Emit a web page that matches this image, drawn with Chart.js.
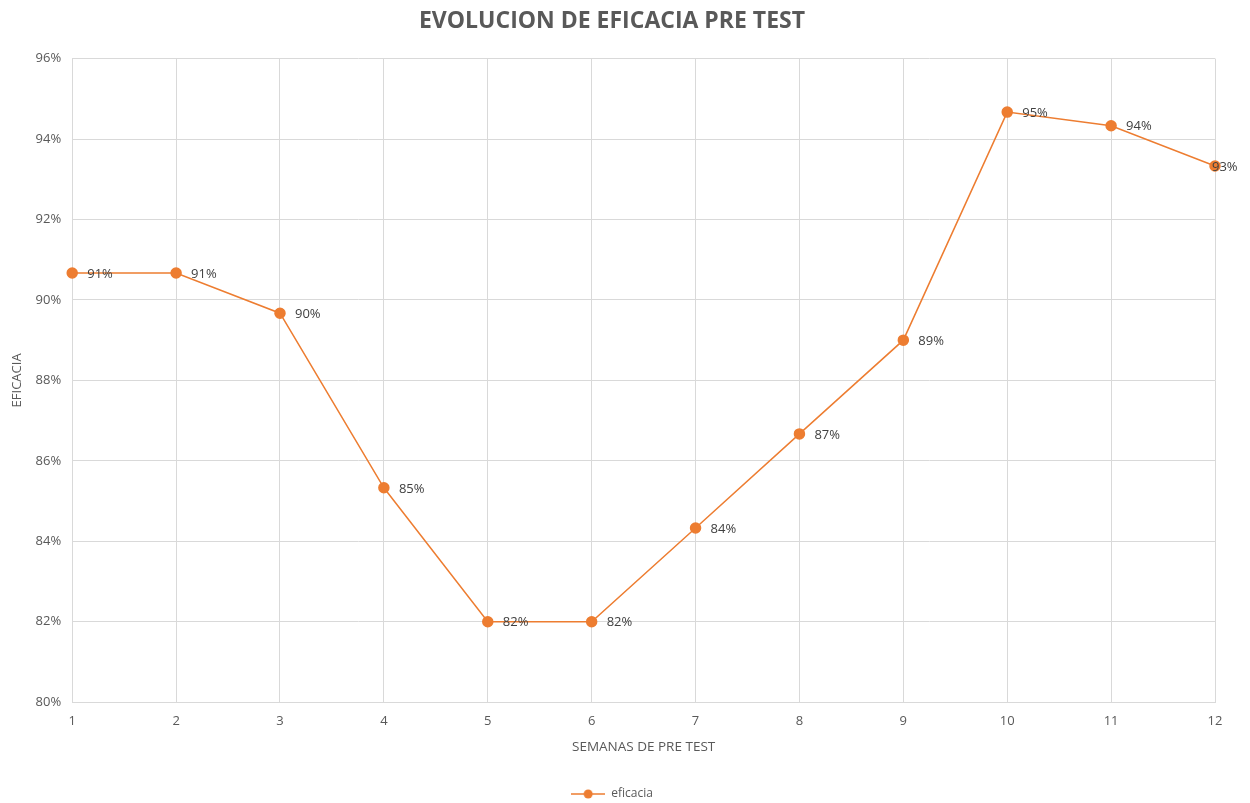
<!DOCTYPE html>
<html>
<head>
<meta charset="utf-8">
<script src="https://cdn.jsdelivr.net/npm/chart.js@4/dist/chart.umd.min.js"></script>
<style>
html,body{margin:0;padding:0;background:#fff;}
#wrap{width:1250px;height:803px;position:relative;}
</style>
</head>
<body>
<div id="wrap"><canvas id="c" width="1250" height="803"></canvas></div>
<script>
const weeks = ['1','2','3','4','5','6','7','8','9','10','11','12'];
const eficacia = [0.9067, 0.9067, 0.8967, 0.8533, 0.82, 0.82, 0.8433, 0.8667, 0.89, 0.9467, 0.9433, 0.9333];
const yTicks = { min: 0.80, max: 0.96, step: 0.02 };

const FONT = "'Open Sans', 'Liberation Sans', sans-serif";
const ORANGE = '#ED7D31';
const pct = v => Math.round(v * 100) + '%';

// legend marker: line with a dot
const marker = document.createElement('canvas');
marker.width = 34; marker.height = 12;
(function(){
  const m = marker.getContext('2d');
  m.strokeStyle = ORANGE; m.lineWidth = 1.5;
  m.beginPath(); m.moveTo(0, 6); m.lineTo(34, 6); m.stroke();
  m.fillStyle = ORANGE;
  m.beginPath(); m.arc(17, 6, 4.5, 0, Math.PI * 2); m.fill();
})();

const labelPlugin = {
  id: 'pointLabels',
  afterDatasetsDraw(chart) {
    const ctx = chart.ctx;
    const meta = chart.getDatasetMeta(0);
    ctx.save();
    ctx.font = "13px " + FONT;
    ctx.fillStyle = '#404040';
    ctx.textAlign = 'left';
    ctx.textBaseline = 'middle';
    meta.data.forEach((pt, i) => {
      const t = pct(eficacia[i]);
      const w = ctx.measureText(t).width;
      let x = pt.x + 15;
      if (x + w > chart.width - 8) x = pt.x - 3;
      ctx.fillText(t, x, pt.y + 1);
    });
    ctx.restore();
  }
};

new Chart(document.getElementById('c'), {
  type: 'line',
  data: {
    labels: weeks,
    datasets: [{
      label: 'eficacia',
      data: eficacia,
      borderColor: ORANGE,
      backgroundColor: ORANGE,
      borderWidth: 1.5,
      pointRadius: 5,
      pointHoverRadius: 5,
      pointBackgroundColor: ORANGE,
      pointBorderColor: ORANGE,
      tension: 0
    }]
  },
  options: {
    responsive: false,
    animation: false,
    devicePixelRatio: 1,
    layout: { padding: { left: 9, right: 35, top: 8, bottom: -7 } },
    plugins: {
      title: {
        display: true,
        text: 'EVOLUCION DE EFICACIA PRE TEST',
        color: '#595959',
        font: { family: FONT, size: 23, weight: 'bold' },
        padding: { top: 0, bottom: 23 }
      },
      legend: {
        display: true,
        position: 'bottom',
        labels: {
          color: '#595959',
          font: { family: FONT, size: 12 },
          usePointStyle: true,
          pointStyle: marker,
          pointStyleWidth: 34,
          boxHeight: 12,
          padding: 5
        }
      },
      tooltip: { enabled: false }
    },
    scales: {
      x: {
        offset: false,
        grid: { color: '#d9d9d9', lineWidth: 1, drawTicks: false },
        border: { color: '#d9d9d9' },
        ticks: { color: '#595959', font: { family: FONT, size: 13 }, padding: 11, maxRotation: 0 },
        title: {
          display: true,
          text: 'SEMANAS DE PRE TEST',
          color: '#595959',
          font: { family: FONT, size: 13.5 },
          padding: { top: -1, bottom: 28 }
        }
      },
      y: {
        min: yTicks.min,
        max: yTicks.max,
        grid: { color: '#d9d9d9', lineWidth: 1, drawTicks: false },
        border: { color: '#d9d9d9' },
        ticks: {
          stepSize: yTicks.step,
          color: '#595959',
          font: { family: FONT, size: 13 },
          padding: 11,
          callback: v => pct(v)
        },
        title: {
          display: true,
          text: 'EFICACIA',
          color: '#595959',
          font: { family: FONT, size: 13 },
          padding: { top: 0, bottom: 0 }
        }
      }
    }
  },
  plugins: [labelPlugin]
});
</script>
</body>
</html>
